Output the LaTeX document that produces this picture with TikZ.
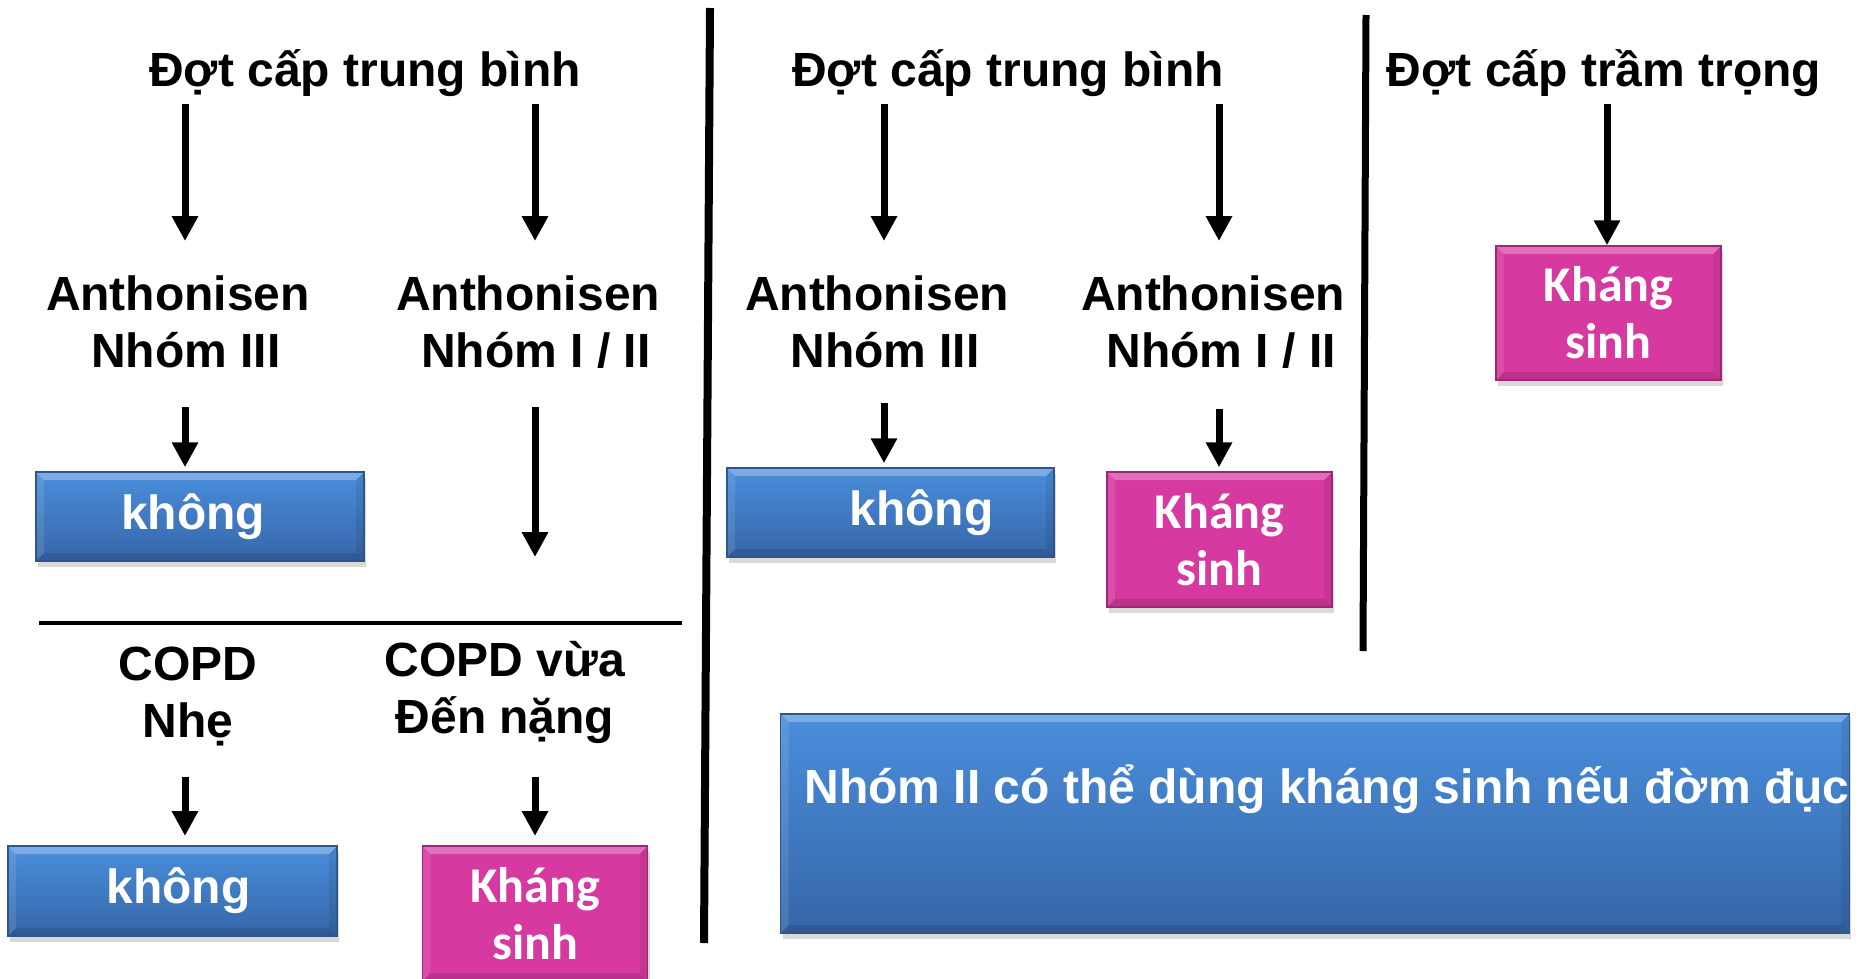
\documentclass[tikz,border=0pt]{standalone}
\usepackage{fontspec}
\setmainfont{Liberation Sans}
\newfontfamily\calibrifont{Carlito}
\usetikzlibrary{arrows.meta,shadows,calc}
\definecolor{bluetop}{RGB}{74,142,220}
\definecolor{bluebot}{RGB}{54,102,168}
\definecolor{blueedge}{RGB}{44,86,140}
\definecolor{pinkmain}{RGB}{214,58,160}
\definecolor{pinkedge}{RGB}{165,35,118}
\begin{document}
\begin{tikzpicture}[x=1pt,y=-1pt,
  lbl/.style={font=\fontsize{48}{57}\selectfont\bfseries, align=center, inner sep=0pt},
  arr/.style={line width=7pt, -{Triangle[width=25pt,length=25pt]}},
  sep/.style={line width=8pt, line cap=butt},
  bevel/.style={path picture={
      \fill[white,opacity=0.28] (path picture bounding box.north west) -- (path picture bounding box.north east)
        -- ($(path picture bounding box.north east)+(-8pt,-8pt)$) -- ($(path picture bounding box.north west)+(8pt,-8pt)$) -- cycle;
      \fill[black,opacity=0.12] (path picture bounding box.south west) -- (path picture bounding box.south east)
        -- ($(path picture bounding box.south east)+(-8pt,8pt)$) -- ($(path picture bounding box.south west)+(8pt,8pt)$) -- cycle;
      \fill[black,opacity=0.08] (path picture bounding box.north east) -- (path picture bounding box.south east)
        -- ($(path picture bounding box.south east)+(-8pt,8pt)$) -- ($(path picture bounding box.north east)+(-8pt,-8pt)$) -- cycle;
      \fill[white,opacity=0.10] (path picture bounding box.north west) -- (path picture bounding box.south west)
        -- ($(path picture bounding box.south west)+(8pt,8pt)$) -- ($(path picture bounding box.north west)+(8pt,-8pt)$) -- cycle;
    }},
  bluebox/.style={draw=blueedge, line width=1.5pt, top color=bluetop, bottom color=bluebot, bevel,
    drop shadow={opacity=0.3, shadow xshift=2pt, shadow yshift=-6pt},
    text=white, font=\fontsize{48}{57}\selectfont\bfseries, inner sep=0pt, align=center},
  pinkbox/.style={draw=pinkedge, line width=1.5pt, fill=pinkmain, bevel,
    drop shadow={opacity=0.3, shadow xshift=2pt, shadow yshift=-6pt},
    text=white, font=\calibrifont\fontsize{50}{57}\selectfont\bfseries, inner sep=0pt, align=center,
    minimum width=225pt, minimum height=135pt}
]
\useasboundingbox (0,0) rectangle (1860,979);

% titles
\node[lbl] (t1) at (365,73) {Đợt cấp trung bình};
\node[lbl] (t2) at (1008,73) {Đợt cấp trung bình};
\node[lbl] (t3) at (1604,73) {Đợt cấp trầm trọng};

% Anthonisen labels
\node[lbl] (a1) at (178,322) {Anthonisen\\\hspace*{16pt}Nhóm III};
\node[lbl] (a2) at (528,322) {Anthonisen\\\hspace*{16pt}Nhóm I / II};
\node[lbl] (a3) at (877,322) {Anthonisen\\\hspace*{16pt}Nhóm III};
\node[lbl] (a4) at (1213,322) {Anthonisen\\\hspace*{16pt}Nhóm I / II};

% COPD labels
\node[lbl] (c1) at (188,697) {COPD\\Nhẹ};
\node[lbl] (c2) at (505,692) {COPD vừa\\Đến nặng};

% boxes
\node[bluebox, minimum width=328pt, minimum height=89pt] (k1) at (200,516.5) {\hspace*{-14pt}không};
\node[bluebox, minimum width=327pt, minimum height=89pt] (k2) at (890.5,512.5) {\hspace*{62pt}không};
\node[bluebox, minimum width=329pt, minimum height=90pt] (k3) at (172.5,891) {\hspace*{12pt}không};
\node[pinkbox] (p1) at (535,913.5) {Kháng\\sinh};
\node[pinkbox] (p2) at (1219.5,539.5) {Kháng\\sinh};
\node[pinkbox, minimum height=134pt] (p3) at (1608.5,313) {Kháng\\sinh};
\node[bluebox, minimum width=1066pt, minimum height=219pt] (big) at (1315,823.5)
  {\raisebox{20.5pt}[0pt][0pt]{\hspace*{24pt}Nhóm II có thể dùng kháng sinh nếu đờm đục}};

% separators
\draw[sep] (710,8) -- (704,943);
\draw[sep, line width=7pt] (1366,15) -- (1363,651);
\draw[line width=4pt] (39,623) -- (682,623);

% arrow coordinates
\coordinate (s1) at (185,104); \coordinate (e1) at (185,241);
\coordinate (s2) at (535,104); \coordinate (e2) at (535,241);
\coordinate (s3) at (884,104); \coordinate (e3) at (884,241);
\coordinate (s4) at (1219,104); \coordinate (e4) at (1219,241);
\coordinate (s5) at (1607,104);
\coordinate (s6) at (185,407);
\coordinate (s7) at (535,407); \coordinate (e7) at (535,557);
\coordinate (s8) at (884,403);
\coordinate (s9) at (1219,409);
\coordinate (s10) at (185,777); \coordinate (e10) at (185,836);
\coordinate (s11) at (535,777); \coordinate (e11) at (535,836);

\draw[arr] (s1) -- (e1);
\draw[arr] (s2) -- (e2);
\draw[arr] (s3) -- (e3);
\draw[arr] (s4) -- (e4);
\draw[arr] (s5) -- (s5 |- p3.north);
\draw[arr] (s6) -- ([yshift=4pt]s6 |- k1.north);
\draw[arr] (s7) -- (e7);
\draw[arr] (s8) -- ([yshift=4pt]s8 |- k2.north);
\draw[arr] (s9) -- ([yshift=4pt]s9 |- p2.north);
\draw[arr] (s10) -- (e10);
\draw[arr] (s11) -- (e11);
\end{tikzpicture}
\end{document}
